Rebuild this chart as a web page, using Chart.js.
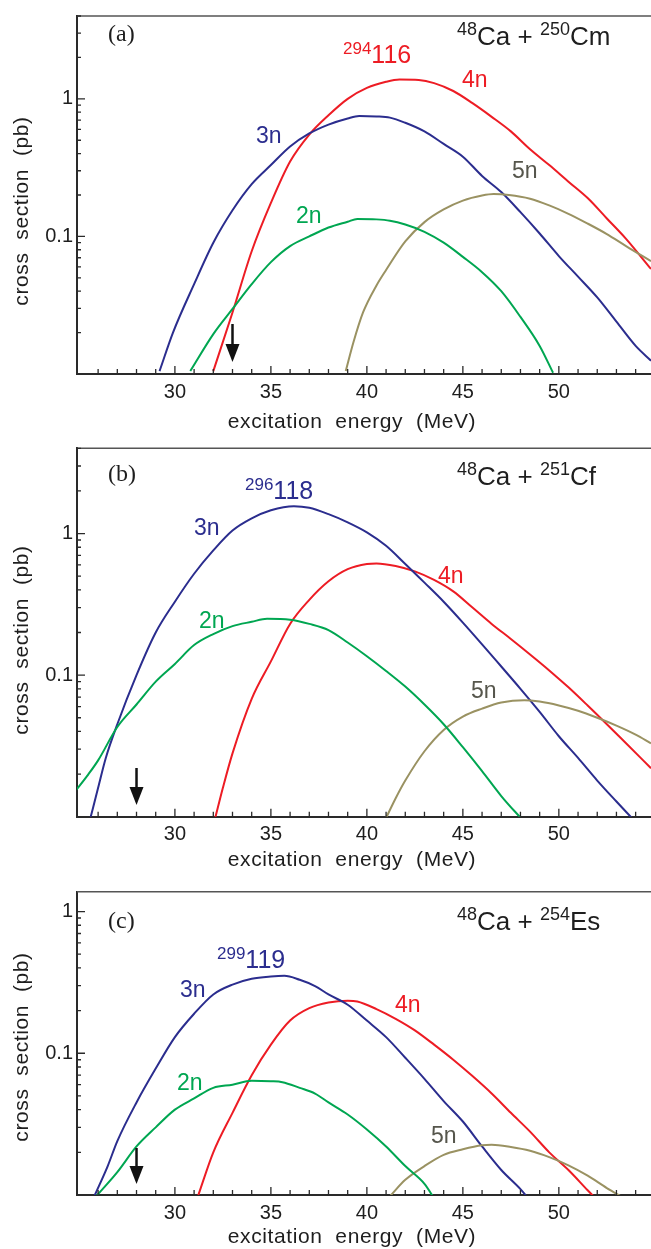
<!DOCTYPE html>
<html>
<head>
<meta charset="utf-8">
<script src="https://cdn.jsdelivr.net/npm/chart.js@4.4.1/dist/chart.umd.min.js"></script>
<style>
  html, body { margin: 0; padding: 0; background: #fff; }
  #wrap { position: relative; width: 651px; height: 1249px; overflow: hidden; }
  canvas { position: absolute; left: 0; }
</style>
</head>
<body>
<div id="wrap">
  <canvas id="cA" width="651" height="445" style="top:0px"></canvas>
  <canvas id="cB" width="651" height="445" style="top:430px"></canvas>
  <canvas id="cC" width="651" height="379" style="top:870px"></canvas>
</div>
<script>
// excitation energy range (MeV) and tick labels
const xMin = 24.9, xMax = 54.8;
const xLabels = [30, 35, 40, 45, 50];
const yLabels = [0.1, 1];

// (a) 48Ca + 250Cm -> 294-116
const aE2n = [30.8, 32, 33, 34, 35, 36, 37, 38, 39, 39.5, 40.5, 41.2, 42, 43, 44, 45, 46, 47, 48, 49, 49.7];
const aS2n = [0.0105, 0.0195, 0.0297, 0.045, 0.065, 0.085, 0.1, 0.116, 0.128, 0.134, 0.133, 0.13, 0.122, 0.108, 0.09, 0.071, 0.055, 0.04, 0.026, 0.016, 0.0102];
const aE3n = [29.2, 29.9, 31, 32, 33, 34, 35, 36, 37, 38, 39, 39.6, 40.5, 41.2, 42, 43, 44, 45, 46, 47, 48, 49, 50, 51, 52, 53, 54, 54.8];
const aS3n = [0.0105, 0.02, 0.045, 0.09, 0.155, 0.24, 0.33, 0.45, 0.56, 0.65, 0.72, 0.75, 0.745, 0.73, 0.67, 0.58, 0.47, 0.38, 0.275, 0.21, 0.15, 0.105, 0.072, 0.051, 0.036, 0.024, 0.016, 0.0125];
const aE4n = [32, 33, 34, 35, 36, 37, 38, 39, 40, 41, 41.7, 42.7, 43.5, 44.5, 45.5, 46.5, 47.5, 48.5, 49.5, 50.5, 51.5, 52.5, 53.5, 54.8];
const aS4n = [0.0105, 0.028, 0.078, 0.175, 0.35, 0.55, 0.76, 1.0, 1.2, 1.33, 1.38, 1.37, 1.3, 1.14, 0.93, 0.74, 0.58, 0.43, 0.33, 0.25, 0.19, 0.135, 0.096, 0.058];
const aE5n = [38.9, 39.3, 39.8, 40.5, 41, 42, 43, 44, 45, 46, 46.6, 47.4, 48.5, 49.5, 50.5, 51.5, 52.5, 53.5, 54.8];
const aS5n = [0.0105, 0.017, 0.028, 0.044, 0.057, 0.092, 0.127, 0.157, 0.182, 0.198, 0.203, 0.2, 0.188, 0.168, 0.146, 0.124, 0.104, 0.085, 0.066];

// (b) 48Ca + 251Cf -> 296-118
const bE2n = [24.7, 25.5, 26, 27, 28, 29, 30, 31, 32, 33, 34, 34.8, 36, 37, 38, 39, 40, 41, 42, 43, 44, 45, 46, 47, 48.1];
const bS2n = [0.0145, 0.02, 0.025, 0.043, 0.062, 0.09, 0.12, 0.163, 0.195, 0.222, 0.238, 0.25, 0.246, 0.23, 0.208, 0.17, 0.136, 0.107, 0.083, 0.062, 0.045, 0.031, 0.021, 0.014, 0.0095];
const bE3n = [25.6, 26, 26.4, 27, 28, 29, 30, 31, 32, 33, 34, 35, 36.2, 37, 38, 39, 40, 41, 42, 43, 44, 45, 46, 47, 48, 49, 50, 51, 52, 53, 53.8];
const bS3n = [0.0098, 0.016, 0.026, 0.045, 0.1, 0.2, 0.33, 0.52, 0.76, 1.05, 1.28, 1.46, 1.56, 1.52, 1.37, 1.2, 1.02, 0.82, 0.61, 0.45, 0.33, 0.235, 0.165, 0.115, 0.08, 0.055, 0.037, 0.026, 0.018, 0.0128, 0.0098];
const bE4n = [32.1, 32.5, 33, 34, 35, 36, 37, 38, 39, 40, 40.5, 41.5, 42.5, 43.5, 44.5, 45.5, 46.5, 47.5, 48.5, 49.5, 50.5, 51.5, 52.5, 53.5, 54.8];
const bS4n = [0.0098, 0.016, 0.028, 0.068, 0.125, 0.23, 0.34, 0.46, 0.56, 0.61, 0.615, 0.59, 0.54, 0.47, 0.39, 0.3, 0.23, 0.18, 0.14, 0.108, 0.082, 0.061, 0.045, 0.033, 0.022];
const bE5n = [41, 41.5, 42, 43, 44, 45, 46, 47, 48.2, 49, 50, 51, 52, 53, 54, 54.8];
const bS5n = [0.0098, 0.0135, 0.018, 0.029, 0.041, 0.051, 0.058, 0.064, 0.0665, 0.065, 0.061, 0.056, 0.05, 0.044, 0.038, 0.033];

// (c) 48Ca + 254Es -> 299-119
const cE2n = [25.9, 27, 28, 29, 30, 31, 32, 33, 34, 35, 35.6, 36.5, 37.3, 38, 39, 40, 41, 42, 43, 43.5];
const cS2n = [0.0098, 0.0145, 0.022, 0.03, 0.04, 0.048, 0.057, 0.06, 0.064, 0.0635, 0.0625, 0.057, 0.052, 0.045, 0.037, 0.029, 0.022, 0.016, 0.012, 0.0095];
const cE3n = [25.8, 26.5, 27, 28, 29, 30, 31, 32, 33, 34, 35, 35.7, 36.5, 37.3, 38, 39, 40, 41, 42, 43, 44, 45, 46, 47, 48, 48.4];
const cS3n = [0.0098, 0.016, 0.024, 0.045, 0.078, 0.13, 0.19, 0.26, 0.305, 0.335, 0.348, 0.352, 0.33, 0.298, 0.26, 0.22, 0.17, 0.13, 0.093, 0.066, 0.046, 0.033, 0.022, 0.015, 0.011, 0.0095];
const cE4n = [31.2, 32, 33, 34, 35, 36, 37, 38, 39, 39.5, 40.5, 41.5, 42.5, 43.5, 44.5, 45.5, 46.5, 47.5, 48.5, 49.5, 50.5, 51.5, 51.9];
const cS4n = [0.0098, 0.02, 0.038, 0.07, 0.115, 0.17, 0.208, 0.228, 0.235, 0.232, 0.205, 0.175, 0.145, 0.115, 0.09, 0.069, 0.052, 0.038, 0.028, 0.02, 0.015, 0.0108, 0.0095];
const cE5n = [41.2, 42, 43, 44, 45, 46, 46.5, 47.5, 48.5, 49.5, 50.5, 51.5, 52.5, 53.4];
const cS5n = [0.0098, 0.0128, 0.016, 0.0192, 0.021, 0.0224, 0.0226, 0.0218, 0.0205, 0.0185, 0.0162, 0.0137, 0.0112, 0.0095];

// arrow positions (MeV)
const arrowE = [33, 28, 28];

const BLUE = "#2b2d8e", RED = "#ed1c24", GREEN = "#00a651", OLIVE = "#9a9262", GREY5 = "#56564c";
const AXIS = "#2a2a2a", TEXT = "#1e1e1e";
const SANS = "'Liberation Sans', Arial, sans-serif";
const SERIF = "'Liberation Serif', 'Times New Roman', serif";

function series(E, S, color) {
  return {
    data: E.map((e, i) => ({ x: e, y: S[i] })),
    borderColor: color, borderWidth: 2, pointRadius: 0,
    cubicInterpolationMode: "monotone", fill: false
  };
}

function drawRich(ctx, parts, x, y, color, size, supSize) {
  let cx = x;
  ctx.fillStyle = color;
  ctx.textBaseline = "alphabetic";
  ctx.textAlign = "left";
  parts.forEach(p => {
    const sup = p[1];
    ctx.font = (sup ? supSize : size) + "px " + SANS;
    ctx.fillText(p[0], cx, sup ? y - size * 0.38 : y);
    cx += ctx.measureText(p[0]).width;
  });
}

const frame = {
  id: "frame",
  afterDraw(chart, args, o) {
    const ctx = chart.ctx, area = chart.chartArea;
    const xs = chart.scales.x, ys = chart.scales.y;
    ctx.save();
    // top border
    ctx.strokeStyle = "#555";
    ctx.lineWidth = 1.5;
    ctx.beginPath();
    ctx.moveTo(area.left, area.top);
    ctx.lineTo(area.right, area.top);
    ctx.stroke();
    // inward tick marks
    ctx.strokeStyle = AXIS;
    ctx.lineWidth = 1.3;
    ctx.beginPath();
    xs.ticks.forEach(t => {
      if (!Number.isInteger(t.value)) return;
      const px = xs.getPixelForValue(t.value);
      if (px - area.left < 4) return;
      const len = t.value % 5 === 0 ? 8 : 5;
      ctx.moveTo(px, area.bottom);
      ctx.lineTo(px, area.bottom - len);
    });
    ys.ticks.forEach(t => {
      const e = Math.floor(Math.log10(t.value) + 1e-9);
      const sig = t.value / Math.pow(10, e);
      if (Math.abs(sig - Math.round(sig)) > 1e-6) return;
      const py = ys.getPixelForValue(t.value);
      if (area.bottom - py < 3) return;
      const len = Math.round(sig) === 1 ? 8 : 4;
      ctx.moveTo(area.left, py);
      ctx.lineTo(area.left + len, py);
    });
    ctx.stroke();
    // arrow
    const ax = xs.getPixelForValue(o.arrow);
    const y0 = o.arrowTop - o.top, y1 = o.arrowTip - o.top;
    ctx.strokeStyle = "#111";
    ctx.fillStyle = "#111";
    ctx.lineWidth = 2.5;
    ctx.beginPath();
    ctx.moveTo(ax, y0);
    ctx.lineTo(ax, y1 - 12);
    ctx.stroke();
    ctx.beginPath();
    ctx.moveTo(ax - 7, y1 - 18);
    ctx.lineTo(ax + 7, y1 - 18);
    ctx.lineTo(ax, y1);
    ctx.closePath();
    ctx.fill();
    // panel letter
    ctx.font = "24px " + SERIF;
    ctx.fillStyle = TEXT;
    ctx.fillText(o.letter, 108, o.letterY - o.top);
    // reaction and labels
    drawRich(ctx, o.reaction, 457, o.reactionY - o.top, TEXT, 26, 18);
    o.labels.forEach(l => drawRich(ctx, l.parts, l.x, l.y - o.top, l.color, l.size, 17));
    // axis titles
    ctx.fillStyle = TEXT;
    ctx.font = "21px " + SANS;
    ctx.letterSpacing = "0.6px";
    ctx.textAlign = "center";
    ctx.textBaseline = "middle";
    ctx.fillText("excitation  energy  (MeV)", 352, o.xTitleY - o.top);
    ctx.translate(22, o.yTitleY - o.top);
    ctx.rotate(-Math.PI / 2);
    ctx.fillText("cross  section  (pb)", 0, 0);
    ctx.restore();
  }
};

function makePanel(id, top, height, areaTop, areaBottom, yMax, datasets, o) {
  o.top = top;
  new Chart(document.getElementById(id), {
    type: "line",
    data: { datasets: datasets },
    plugins: [frame],
    options: {
      responsive: false,
      animation: false,
      events: [],
      layout: { padding: { top: areaTop - top, left: 0, right: 0, bottom: 0 } },
      plugins: { legend: { display: false }, tooltip: { enabled: false }, frame: o },
      scales: {
        x: {
          type: "linear", min: xMin, max: xMax,
          grid: { display: false, drawTicks: false },
          border: { display: true, color: AXIS, width: 2 },
          ticks: {
            stepSize: 1, autoSkip: false, maxRotation: 0, includeBounds: false, padding: 6,
            color: TEXT, font: { size: 20, family: SANS },
            callback: v => (xLabels.includes(v) ? String(v) : "")
          },
          afterFit: s => { s.height = top + height - areaBottom; }
        },
        y: {
          type: "logarithmic", min: 0.01, max: yMax,
          grid: { display: false, drawTicks: false },
          border: { display: true, color: AXIS, width: 2 },
          ticks: {
            autoSkip: false, padding: 4,
            color: TEXT, font: { size: 20, family: SANS },
            callback: v => {
              const hit = yLabels.find(l => Math.abs(v - l) < 1e-9);
              return hit === undefined ? "" : String(hit);
            }
          },
          afterFit: s => { s.width = 77; }
        }
      }
    }
  });
}

makePanel("cA", 0, 445, 5, 374, 4,
  [series(aE2n, aS2n, GREEN), series(aE5n, aS5n, OLIVE), series(aE3n, aS3n, BLUE), series(aE4n, aS4n, RED)],
  {
    arrow: arrowE[0], arrowTop: 324, arrowTip: 362,
    letter: "(a)", letterY: 41,
    reaction: [["48", 1], ["Ca + ", 0], ["250", 1], ["Cm", 0]], reactionY: 45,
    xTitleY: 422, yTitleY: 211,
    labels: [
      { parts: [["294", 1], ["116", 0]], x: 343, y: 63, color: RED, size: 25 },
      { parts: [["4n", 0]], x: 462, y: 87, color: RED, size: 23 },
      { parts: [["3n", 0]], x: 256, y: 143, color: BLUE, size: 23 },
      { parts: [["2n", 0]], x: 296, y: 223, color: GREEN, size: 23 },
      { parts: [["5n", 0]], x: 512, y: 178, color: GREY5, size: 23 }
    ]
  });

makePanel("cB", 430, 445, 448.3, 816.7, 4,
  [series(bE2n, bS2n, GREEN), series(bE5n, bS5n, OLIVE), series(bE3n, bS3n, BLUE), series(bE4n, bS4n, RED)],
  {
    arrow: arrowE[1], arrowTop: 768, arrowTip: 805,
    letter: "(b)", letterY: 481,
    reaction: [["48", 1], ["Ca + ", 0], ["251", 1], ["Cf", 0]], reactionY: 485,
    xTitleY: 860, yTitleY: 640,
    labels: [
      { parts: [["296", 1], ["118", 0]], x: 245, y: 499, color: BLUE, size: 25 },
      { parts: [["3n", 0]], x: 194, y: 535, color: BLUE, size: 23 },
      { parts: [["2n", 0]], x: 199, y: 628, color: GREEN, size: 23 },
      { parts: [["4n", 0]], x: 438, y: 583, color: RED, size: 23 },
      { parts: [["5n", 0]], x: 471, y: 698, color: GREY5, size: 23 }
    ]
  });

makePanel("cC", 870, 379, 891.7, 1195, 1.38,
  [series(cE2n, cS2n, GREEN), series(cE5n, cS5n, OLIVE), series(cE3n, cS3n, BLUE), series(cE4n, cS4n, RED)],
  {
    arrow: arrowE[2], arrowTop: 1148, arrowTip: 1184,
    letter: "(c)", letterY: 928,
    reaction: [["48", 1], ["Ca + ", 0], ["254", 1], ["Es", 0]], reactionY: 930,
    xTitleY: 1237, yTitleY: 1047,
    labels: [
      { parts: [["299", 1], ["119", 0]], x: 217, y: 968, color: BLUE, size: 25 },
      { parts: [["3n", 0]], x: 180, y: 997, color: BLUE, size: 23 },
      { parts: [["2n", 0]], x: 177, y: 1090, color: GREEN, size: 23 },
      { parts: [["4n", 0]], x: 395, y: 1012, color: RED, size: 23 },
      { parts: [["5n", 0]], x: 431, y: 1143, color: GREY5, size: 23 }
    ]
  });
</script>
</body>
</html>
